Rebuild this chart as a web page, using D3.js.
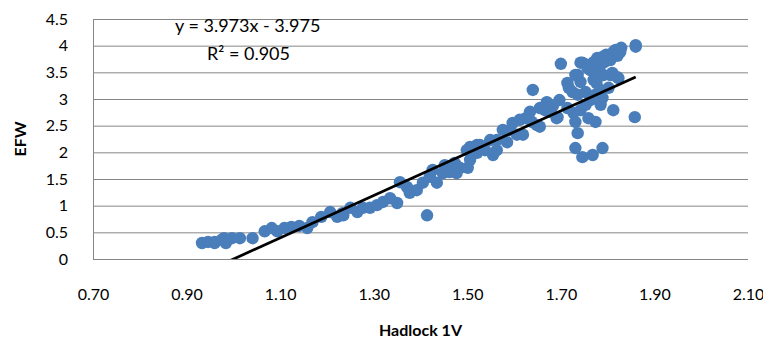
<!DOCTYPE html>
<html>
<head>
<meta charset="utf-8">
<script src="https://cdn.jsdelivr.net/npm/d3@7"></script>
<style>
body { margin: 0; background: #fff; }
svg { display: block; font-family: Lato, 'Open Sans', sans-serif; }
</style>
</head>
<body>
<svg id="chart" width="763" height="344"></svg>
<script>
// Hadlock 1V vs EFW
var hadlock = [
    0.933, 0.946, 0.960, 0.960, 0.975, 0.980, 0.984, 0.997, 1.014, 1.041,
    1.067, 1.082, 1.094, 1.109, 1.124, 1.141, 1.158, 1.169, 1.188, 1.207,
    1.222, 1.233, 1.235, 1.250, 1.265, 1.277, 1.292, 1.307, 1.320, 1.335,
    1.350, 1.356, 1.371, 1.377, 1.392, 1.405, 1.420, 1.426, 1.435, 1.448,
    1.462, 1.477, 1.484, 1.499, 1.506, 1.521, 1.501, 1.414, 1.506, 1.521,
    1.527, 1.555, 1.563, 1.563, 1.576, 1.585, 1.597, 1.606, 1.619, 1.634,
    1.638, 1.640, 1.649, 1.655, 1.670, 1.676, 1.691, 1.697, 1.714, 1.717,
    1.700, 1.742, 1.757, 1.785, 1.797, 1.812, 1.789, 1.778, 1.770, 1.757,
    1.746, 1.860, 1.860, 1.829, 1.714, 1.736, 1.742, 1.770, 1.791, 1.810,
    1.823, 1.802, 1.725, 1.736, 1.753, 1.774, 1.789, 1.812, 1.858, 1.670,
    1.693, 1.727, 1.742, 1.731, 1.759, 1.774, 1.736, 1.731, 1.746, 1.768,
    1.789, 1.655, 1.806, 1.821, 1.776, 1.731, 1.452, 1.473, 1.538, 1.549,
    1.591, 1.612, 1.625, 1.666, 1.683, 1.763, 1.776, 1.793, 1.806, 1.821,
    1.817, 1.827, 1.785, 1.763, 1.753, 1.785
];
var efw = [
    0.30, 0.32, 0.32, 0.30, 0.36, 0.39, 0.30, 0.39, 0.39, 0.39,
    0.52, 0.58, 0.52, 0.58, 0.60, 0.62, 0.58, 0.69, 0.79, 0.88,
    0.79, 0.86, 0.82, 0.96, 0.88, 0.96, 0.96, 1.01, 1.07, 1.14,
    1.05, 1.44, 1.35, 1.24, 1.29, 1.43, 1.54, 1.67, 1.43, 1.61,
    1.63, 1.61, 1.71, 2.04, 2.10, 2.14, 1.71, 0.82, 1.86, 1.99,
    2.14, 1.95, 2.23, 2.04, 2.42, 2.19, 2.55, 2.33, 2.33, 2.76,
    2.57, 3.17, 2.51, 2.83, 2.93, 2.76, 2.64, 2.98, 2.83, 3.21,
    3.66, 3.68, 3.58, 3.64, 3.83, 3.88, 3.79, 3.77, 3.69, 3.64,
    3.68, 4.01, 3.98, 3.96, 3.30, 3.45, 3.32, 3.36, 3.45, 3.49,
    3.39, 3.21, 3.13, 3.08, 3.13, 3.08, 3.02, 2.79, 2.66, 2.94,
    2.66, 2.74, 2.79, 2.57, 2.64, 2.57, 2.36, 2.08, 1.91, 1.95,
    2.08, 2.48, 3.45, 3.41, 3.30, 3.45, 1.76, 1.80, 2.04, 2.23,
    2.42, 2.61, 2.64, 2.79, 2.87, 3.54, 3.51, 3.69, 3.73, 3.81,
    3.92, 3.88, 3.17, 2.98, 2.89, 2.89
];

// linear trend as printed on the chart
var slope = 3.973;
var intercept = -3.975;
var rSquared = 0.905;

var xTicks = [0.7, 0.9, 1.1, 1.3, 1.5, 1.7, 1.9, 2.1];
var yTicks = [0, 0.5, 1, 1.5, 2, 2.5, 3, 3.5, 4, 4.5];

var svg = d3.select('#chart');
var plot = {left: 93, right: 748, top: 19, bottom: 259};

var x = d3.scaleLinear().domain([0.7, 2.1]).range([plot.left, plot.right]);
var y = d3.scaleLinear().domain([0, 4.5]).range([plot.bottom, plot.top]);

// horizontal grid
svg.append('g')
    .attr('transform', 'translate(' + plot.left + ',0)')
    .call(d3.axisLeft(y).tickValues(yTicks).tickSize(-(plot.right - plot.left)).tickFormat(''))
    .call(function(g){
        g.select('.domain').remove();
        g.selectAll('line').attr('stroke', '#868686').attr('stroke-width', 1);
    });

// y axis line + labels
svg.append('line')
    .attr('x1', plot.left + 0.5).attr('x2', plot.left + 0.5)
    .attr('y1', plot.top).attr('y2', plot.bottom)
    .attr('stroke', '#868686');

svg.append('g')
    .attr('transform', 'translate(' + (plot.left - 22) + ',0)')
    .call(d3.axisLeft(y).tickValues(yTicks).tickSize(0).tickFormat(function(d){ return String(d); }))
    .call(function(g){
        g.select('.domain').remove();
        g.selectAll('text').attr('font-size', 16).attr('fill', '#000')
            .attr('font-family', 'Lato, sans-serif').attr('dx', 0);
    });

// x axis labels (no line, zero gridline is the baseline)
svg.append('g')
    .attr('transform', 'translate(0,' + (plot.bottom + 27) + ')')
    .call(d3.axisBottom(x).tickValues(xTicks).tickSize(0).tickFormat(d3.format('.2f')))
    .call(function(g){
        g.select('.domain').remove();
        g.selectAll('text').attr('font-size', 16).attr('fill', '#000')
            .attr('font-family', 'Lato, sans-serif');
    });

// points
var points = hadlock.map(function(v, i){ return {x: v, y: efw[i]}; });
svg.append('g').selectAll('circle')
    .data(points).enter()
    .append('circle')
    .attr('cx', function(d){ return x(d.x); })
    .attr('cy', function(d){ return y(d.y); })
    .attr('r', 6.2)
    .attr('fill', '#4a7ebb');

// trend line, clipped to the plot area
svg.append('clipPath').attr('id', 'plotclip')
    .append('rect')
    .attr('x', plot.left).attr('y', plot.top)
    .attr('width', plot.right - plot.left).attr('height', plot.bottom - plot.top);

var ext = d3.extent(hadlock);
svg.append('line')
    .attr('clip-path', 'url(#plotclip)')
    .attr('x1', x(ext[0])).attr('y1', y(slope * ext[0] + intercept))
    .attr('x2', x(ext[1])).attr('y2', y(slope * ext[1] + intercept))
    .attr('stroke', '#000')
    .attr('stroke-width', 2.75);

// equation label
svg.append('text')
    .attr('x', 175).attr('y', 32)
    .attr('font-size', 18)
    .text('y = ' + slope + 'x - ' + Math.abs(intercept));
svg.append('text')
    .attr('x', 207).attr('y', 60)
    .attr('font-size', 18)
    .text('R\u00b2 = ' + rSquared);

// axis titles
svg.append('text')
    .attr('transform', 'translate(26,' + ((plot.top + plot.bottom) / 2) + ') rotate(-90)')
    .attr('text-anchor', 'middle')
    .attr('font-size', 16)
    .attr('font-weight', 'bold')
    .text('EFW');

svg.append('text')
    .attr('x', (plot.left + plot.right) / 2).attr('y', 336)
    .attr('text-anchor', 'middle')
    .attr('font-size', 16)
    .attr('font-weight', 'bold')
    .text('Hadlock 1V');
</script>
</body>
</html>
